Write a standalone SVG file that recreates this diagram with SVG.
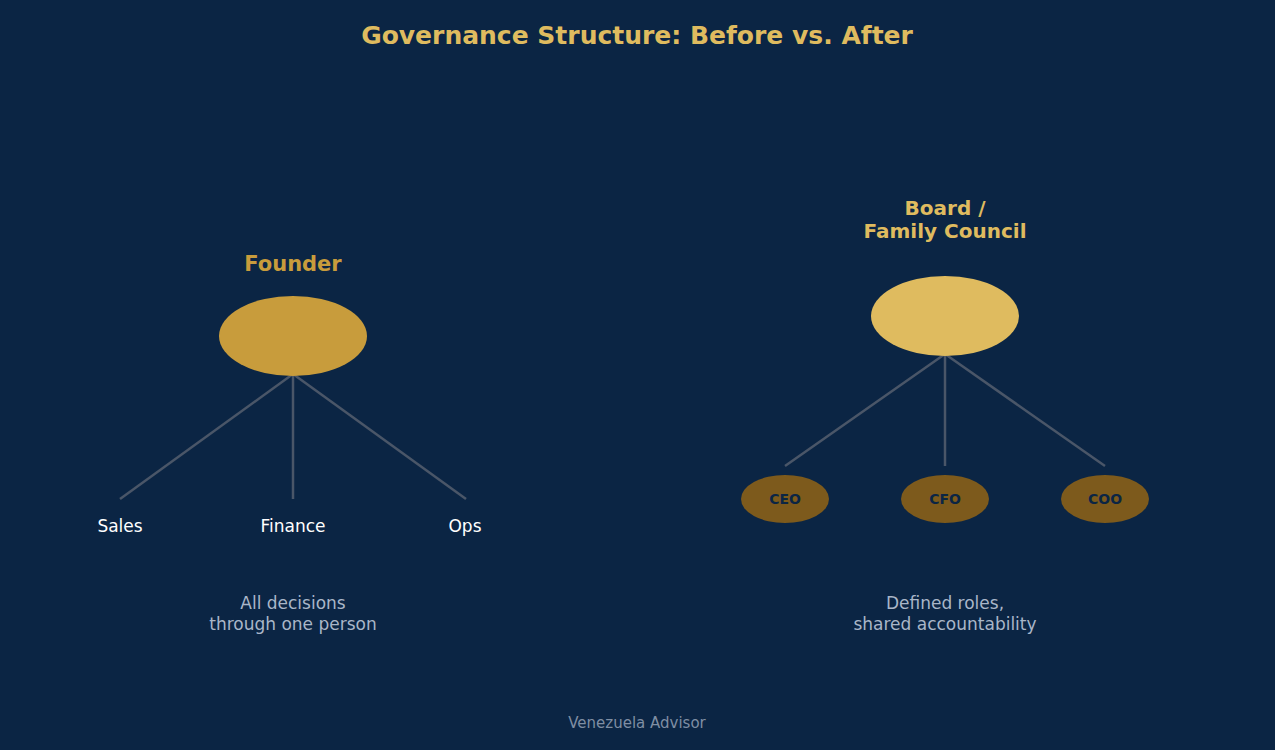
<svg xmlns="http://www.w3.org/2000/svg" width="1275" height="750" viewBox="0 0 1275 750">
<style>
text{font-family:"DejaVu Sans","Noto Sans",sans-serif;text-anchor:middle}
.ln{stroke:#4a5668;stroke-width:2.5;fill:none}
.lab{fill:#ffffff;font-size:17px}
.note{fill:#a9b6c8;font-size:17px}
.role{fill:#0b2544;font-size:14px;font-weight:bold}
</style>
<rect width="1275" height="750" fill="#0b2544"/>
<text x="637" y="44" fill="#dfbb5f" font-size="25" font-weight="bold">Governance Structure: Before vs. After</text>
<g id="connectors">
<line class="ln" x1="293" y1="374" x2="120" y2="499"/>
<line class="ln" x1="293" y1="374" x2="293" y2="499"/>
<line class="ln" x1="293" y1="374" x2="466" y2="499"/>
<line class="ln" x1="945" y1="354" x2="785" y2="466"/>
<line class="ln" x1="945" y1="354" x2="945" y2="466"/>
<line class="ln" x1="945" y1="354" x2="1105" y2="466"/>
</g>
<g id="founder"><ellipse cx="293" cy="336" rx="74" ry="40" fill="#c89c3c"/>
<text x="293" y="271" fill="#c89c3c" font-size="21" font-weight="bold">Founder</text></g>
<g id="sales"><text class="lab" x="120" y="532">Sales</text></g>
<g id="finance"><text class="lab" x="293" y="532">Finance</text></g>
<g id="ops"><text class="lab" x="465" y="532">Ops</text></g>
<g id="note1"><text class="note" x="293" y="609">All decisions</text><text class="note" x="293" y="630">through one person</text></g>
<g id="board"><ellipse cx="945" cy="316" rx="74" ry="40" fill="#dfbb5f"/>
<text x="945" y="215" fill="#dfbb5f" font-size="20" font-weight="bold">Board /</text>
<text x="945" y="238" fill="#dfbb5f" font-size="20" font-weight="bold">Family Council</text></g>
<g id="ceo"><ellipse cx="785" cy="499" rx="44" ry="24" fill="#7d5a1c"/><text class="role" x="785" y="504">CEO</text></g>
<g id="cfo"><ellipse cx="945" cy="499" rx="44" ry="24" fill="#7d5a1c"/><text class="role" x="945" y="504">CFO</text></g>
<g id="coo"><ellipse cx="1105" cy="499" rx="44" ry="24" fill="#7d5a1c"/><text class="role" x="1105" y="504">COO</text></g>
<g id="note2"><text class="note" x="945" y="609">Defined roles,</text><text class="note" x="945" y="630">shared accountability</text></g>
<text x="637" y="728" fill="#7f8ea3" font-size="15">Venezuela Advisor</text>
</svg>
